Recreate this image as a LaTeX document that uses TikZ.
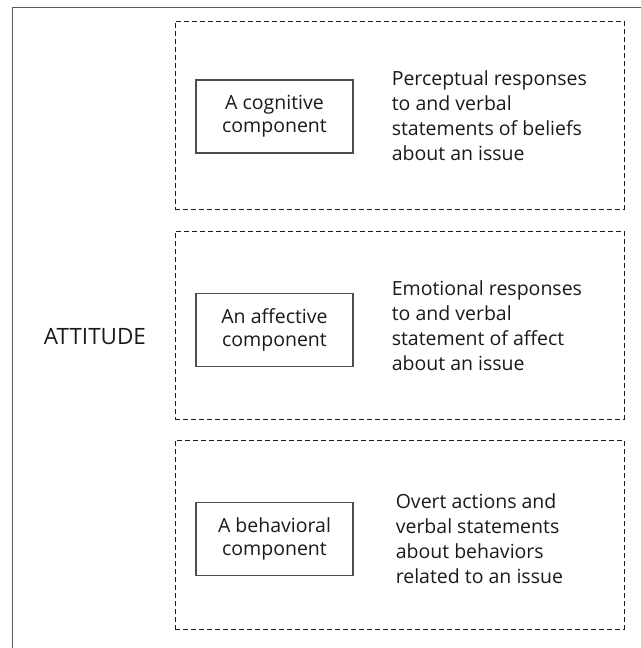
\documentclass[tikz,border=0pt]{standalone}
\usepackage{fontspec}
\setmainfont{Open Sans}
\usetikzlibrary{positioning}
\definecolor{ink}{HTML}{1A1A1A}
\definecolor{ink2}{HTML}{4D4D4D}
\definecolor{frame}{HTML}{5A5A5A}
\tikzset{
  every picture/.style={line join=miter},
  comp/.style={draw=ink2, fill=white, line width=1.2pt, align=center,
    minimum width=157pt, minimum height=73pt, inner sep=0pt, text=ink,
    font=\fontsize{19.5}{23}\selectfont},
  desc/.style={anchor=west, align=left, inner sep=0pt, text=ink,
    font=\fontsize{19.5}{25}\selectfont},
  group/.style={draw=ink, dash pattern=on 5pt off 3pt, line width=1pt,
    minimum width=449pt, inner sep=0pt},
  lbl/.style={font=\fontsize{22.5}{24}\selectfont, text=ink},
}

\begin{document}
\begin{tikzpicture}[x=1pt, y=-1pt]
  \useasboundingbox (0,0) rectangle (640,648);
  % outer frame, only its top and left edges fall on the page
  \draw[frame, line width=1.4pt] (641,7.5) -- (12.5,7.5) -- (12.5,649);

  \node[lbl] (att) at (95,337) {ATTITUDE};

  % ---------------- cognitive ----------------
  \node[group, minimum height=188pt] (g1) at (399.5,115) {};
  \node[comp] (cog) at (274.5,116.5) {A cognitive\\component};
  \node[desc, right=38pt of cog.east, yshift=1pt] (cogtxt)
    {Perceptual responses\\to and verbal\\statements of beliefs\\about an issue};

  % ---------------- affective ----------------
  \node[group, minimum height=188pt] (g2) at (399.5,325) {};
  \node[comp] (aff) at (274.5,330) {An affective\\component};
  \node[desc, right=38pt of aff.east, yshift=4pt] (afftxt)
    {Emotional responses\\to and verbal\\statement of affect\\about an issue};

  % ---------------- behavioral ----------------
  \node[group, minimum height=189pt] (g3) at (399.5,534.5) {};
  \node[comp] (beh) at (274.5,539) {A behavioral\\component};
  \node[desc, right=42pt of beh.east] (behtxt)
    {Overt actions and\\verbal statements\\about behaviors\\related to an issue};
\end{tikzpicture}
\end{document}
